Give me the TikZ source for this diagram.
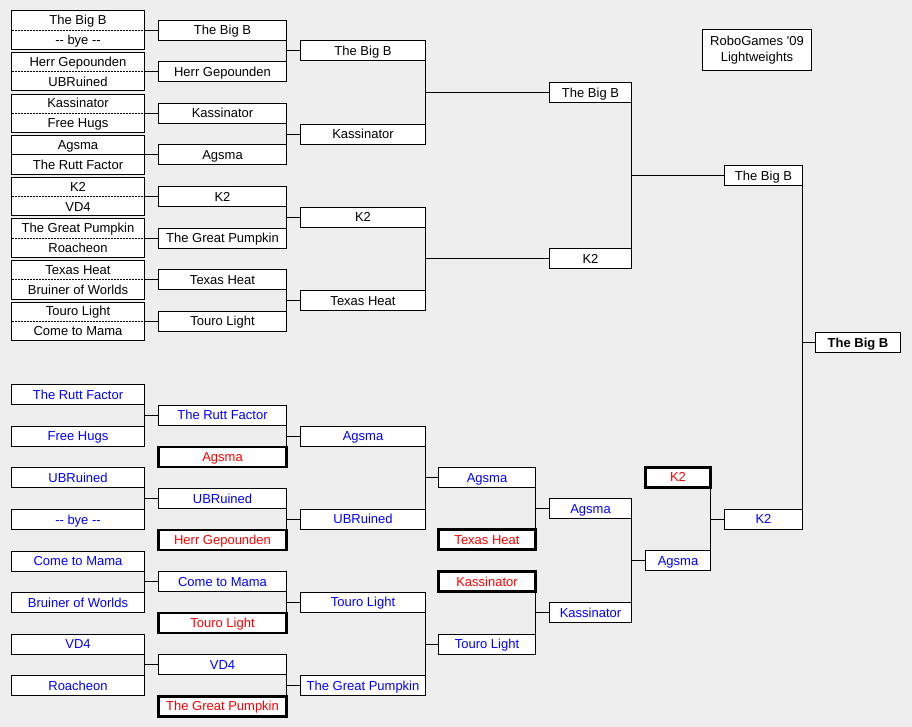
\documentclass[tikz,border=0pt]{standalone}
\usepackage{fontspec}
\setmainfont{Liberation Sans}[Ligatures=TeXOff]
\usepackage{xcolor}
\definecolor{panel}{RGB}{238,238,238}
\definecolor{upblue}{RGB}{0,0,255}
\definecolor{outred}{RGB}{255,0,0}
\tikzstyle{every node}=[font=\fontsize{13}{16}\selectfont]
\tikzstyle{slot}=[draw, fill=white, line width=1pt, inner sep=0pt, outer sep=0pt, minimum height=20pt, text height=10.5pt, text depth=1.5pt]
\tikzstyle{pair}=[draw, fill=white, line width=1pt, inner sep=0pt, outer sep=0pt, minimum height=38.4pt, minimum width=133pt]
\tikzstyle{player}=[inner sep=0pt, text height=10.5pt, text depth=1.5pt]
\tikzstyle{halfline}=[line width=1pt, dash pattern=on 2pt off 1pt]
\tikzstyle{alive}=[text=upblue]
\tikzstyle{dropped}=[line width=2.5pt, text=outred]
\tikzstyle{colA}=[minimum width=133pt]
\tikzstyle{colB}=[minimum width=128pt]
\tikzstyle{colC}=[minimum width=125pt]
\tikzstyle{colD}=[minimum width=97pt]
\tikzstyle{colE}=[minimum width=82pt]
\tikzstyle{colF}=[minimum width=65pt]
\tikzstyle{colG}=[minimum width=78pt]
\tikzstyle{colH}=[minimum width=85pt]

\begin{document}
\begin{tikzpicture}[x=1pt, y=-1pt, line width=1pt]
		\useasboundingbox[fill=panel] (0,0) rectangle (912,727);
		\node(title)[draw, fill=white, inner sep=0pt, minimum width=109pt, minimum height=41pt, align=center] at (757, 50.3) {RoboGames '09\\Lightweights};
		%%%%%%% winners, first round
		\node(p1)[pair] at (78, 30.2) {};
		\node(p1a)[player] at (78, 20.2) {The Big B};
		\node(p1b)[player] at (78, 40.2) {-- bye --};
		\draw[halfline] (p1.west) -- (p1.east);
		\node(p2)[pair] at (78, 71.8) {};
		\node(p2a)[player] at (78, 61.8) {Herr Gepounden};
		\node(p2b)[player] at (78, 81.8) {UBRuined};
		\draw[halfline] (p2.west) -- (p2.east);
		\node(p3)[pair] at (78, 113.4) {};
		\node(p3a)[player] at (78, 103.4) {Kassinator};
		\node(p3b)[player] at (78, 123.4) {Free Hugs};
		\draw[halfline] (p3.west) -- (p3.east);
		\node(p4)[pair] at (78, 155) {};
		\node(p4a)[player] at (78, 145) {Agsma};
		\node(p4b)[player] at (78, 165) {The Rutt Factor};
		\draw (p4.west) -- (p4.east);
		\node(p5)[pair] at (78, 196.6) {};
		\node(p5a)[player] at (78, 186.6) {K2};
		\node(p5b)[player] at (78, 206.6) {VD4};
		\draw[halfline] (p5.west) -- (p5.east);
		\node(p6)[pair] at (78, 238.2) {};
		\node(p6a)[player] at (78, 228.2) {The Great Pumpkin};
		\node(p6b)[player] at (78, 248.2) {Roacheon};
		\draw[halfline] (p6.west) -- (p6.east);
		\node(p7)[pair] at (78, 279.8) {};
		\node(p7a)[player] at (78, 269.8) {Texas Heat};
		\node(p7b)[player] at (78, 289.8) {Bruiner of Worlds};
		\draw[halfline] (p7.west) -- (p7.east);
		\node(p8)[pair] at (78, 321.4) {};
		\node(p8a)[player] at (78, 311.4) {Touro Light};
		\node(p8b)[player] at (78, 331.4) {Come to Mama};
		\draw[halfline] (p8.west) -- (p8.east);
		%%%%%%% winners, second round
		\node(b1)[slot, colB] at (222.5, 30.2) {The Big B};
		\node(b2)[slot, colB] at (222.5, 71.8) {Herr Gepounden};
		\node(b3)[slot, colB] at (222.5, 113.4) {Kassinator};
		\node(b4)[slot, colB] at (222.5, 155) {Agsma};
		\node(b5)[slot, colB] at (222.5, 196.6) {K2};
		\node(b6)[slot, colB] at (222.5, 238.2) {The Great Pumpkin};
		\node(b7)[slot, colB] at (222.5, 279.8) {Texas Heat};
		\node(b8)[slot, colB] at (222.5, 321.4) {Touro Light};
		\draw (p1.east) -- (b1.west);
		\draw (p2.east) -- (b2.west);
		\draw (p3.east) -- (b3.west);
		\draw (p4.east) -- (b4.west);
		\draw (p5.east) -- (b5.west);
		\draw (p6.east) -- (b6.west);
		\draw (p7.east) -- (b7.west);
		\draw (p8.east) -- (b8.west);
		%%%%%%% winners, later rounds
		\node(c1)[slot, colC] at (363, 51) {The Big B};
		\node(c2)[slot, colC] at (363, 134.2) {Kassinator};
		\node(c3)[slot, colC] at (363, 217.4) {K2};
		\node(c4)[slot, colC] at (363, 300.6) {Texas Heat};
		\draw (b1.south east) -- (b2.north east);
		\draw (c1.west) -- (c1.west -| b1.east);
		\draw (b3.south east) -- (b4.north east);
		\draw (c2.west) -- (c2.west -| b3.east);
		\draw (b5.south east) -- (b6.north east);
		\draw (c3.west) -- (c3.west -| b5.east);
		\draw (b7.south east) -- (b8.north east);
		\draw (c4.west) -- (c4.west -| b7.east);
		\node(d1)[slot, colE] at (590.5, 92.6) {The Big B};
		\node(d2)[slot, colE] at (590.5, 258.8) {K2};
		\draw (c1.south east) -- (c2.north east);
		\draw (d1.west) -- (d1.west -| c1.east);
		\draw (c3.south east) -- (c4.north east);
		\draw (d2.west) -- (d2.west -| c3.east);
		\node(e1)[slot, colG] at (763.5, 175.7) {The Big B};
		\draw (d1.south east) -- (d2.north east);
		\draw (e1.west) -- (e1.west -| d1.east);
		%%%%%%% losers, first round
		\node(la1)[slot, colA, alive] at (78, 394.8) {The Rutt Factor};
		\node(la2)[slot, colA, alive] at (78, 436.4) {Free Hugs};
		\node(la3)[slot, colA, alive] at (78, 477.9) {UBRuined};
		\node(la4)[slot, colA, alive] at (78, 519.5) {-- bye --};
		\node(la5)[slot, colA, alive] at (78, 561.1) {Come to Mama};
		\node(la6)[slot, colA, alive] at (78, 602.7) {Bruiner of Worlds};
		\node(la7)[slot, colA, alive] at (78, 644.2) {VD4};
		\node(la8)[slot, colA, alive] at (78, 685.8) {Roacheon};
		%%%%%%% losers, second round
		\node(lb1)[slot, colB, alive] at (222.5, 415.3) {The Rutt Factor};
		\node(lb2)[slot, colB, dropped] at (222.5, 456.9) {Agsma};
		\node(lb3)[slot, colB, alive] at (222.5, 498.5) {UBRuined};
		\node(lb4)[slot, colB, dropped] at (222.5, 540) {Herr Gepounden};
		\node(lb5)[slot, colB, alive] at (222.5, 581.6) {Come to Mama};
		\node(lb6)[slot, colB, dropped] at (222.5, 623.2) {Touro Light};
		\node(lb7)[slot, colB, alive] at (222.5, 664.7) {VD4};
		\node(lb8)[slot, colB, dropped] at (222.5, 706.3) {The Great Pumpkin};
		\draw (la1.south east) -- (la2.north east);
		\draw (lb1.west) -- (lb1.west -| la1.east);
		\draw (la3.south east) -- (la4.north east);
		\draw (lb3.west) -- (lb3.west -| la3.east);
		\draw (la5.south east) -- (la6.north east);
		\draw (lb5.west) -- (lb5.west -| la5.east);
		\draw (la7.south east) -- (la8.north east);
		\draw (lb7.west) -- (lb7.west -| la7.east);
		%%%%%%% losers, third round
		\node(lc1)[slot, colC, alive] at (363, 436.1) {Agsma};
		\node(lc2)[slot, colC, alive] at (363, 519.3) {UBRuined};
		\node(lc3)[slot, colC, alive] at (363, 602.4) {Touro Light};
		\node(lc4)[slot, colC, alive] at (363, 685.5) {The Great Pumpkin};
		\draw (lb1.south east) -- (lb2.north east);
		\draw (lc1.west) -- (lc1.west -| lb1.east);
		\draw (lb3.south east) -- (lb4.north east);
		\draw (lc2.west) -- (lc2.west -| lb3.east);
		\draw (lb5.south east) -- (lb6.north east);
		\draw (lc3.west) -- (lc3.west -| lb5.east);
		\draw (lb7.south east) -- (lb8.north east);
		\draw (lc4.west) -- (lc4.west -| lb7.east);
		%%%%%%% losers, later rounds
		\node(ld1)[slot, colD, alive] at (487, 477.7) {Agsma};
		\node(ld2)[slot, colD, dropped] at (487, 539.5) {Texas Heat};
		\node(ld3)[slot, colD, dropped] at (487, 581.7) {Kassinator};
		\node(ld4)[slot, colD, alive] at (487, 644) {Touro Light};
		\draw (lc1.south east) -- (lc2.north east);
		\draw (ld1.west) -- (ld1.west -| lc1.east);
		\draw (lc3.south east) -- (lc4.north east);
		\draw (ld4.west) -- (ld4.west -| lc3.east);
		\node(le1)[slot, colE, alive] at (590.5, 508.6) {Agsma};
		\node(le2)[slot, colE, alive] at (590.5, 612.8) {Kassinator};
		\draw (ld1.south east) -- (ld2.north east);
		\draw (le1.west) -- (le1.west -| ld1.east);
		\draw (ld3.south east) -- (ld4.north east);
		\draw (le2.west) -- (le2.west -| ld3.east);
		\node(lf1)[slot, colF, dropped] at (678, 477.3) {K2};
		\node(lf2)[slot, colF, alive] at (678, 560.7) {Agsma};
		\draw (le1.south east) -- (le2.north east);
		\draw (lf2.west) -- (lf2.west -| le1.east);
		\node(lg1)[slot, colG, alive] at (763.5, 519) {K2};
		\draw (lf1.south east) -- (lf2.north east);
		\draw (lg1.west) -- (lg1.west -| lf1.east);
		%%%%%%% final
		\node(champ)[slot, colH, font=\fontsize{13}{16}\selectfont\bfseries] at (858, 342.8) {The Big B};
		\draw (e1.south east) -- (lg1.north east);
		\draw (champ.west) -- (champ.west -| e1.east);
\end{tikzpicture}
\end{document}
